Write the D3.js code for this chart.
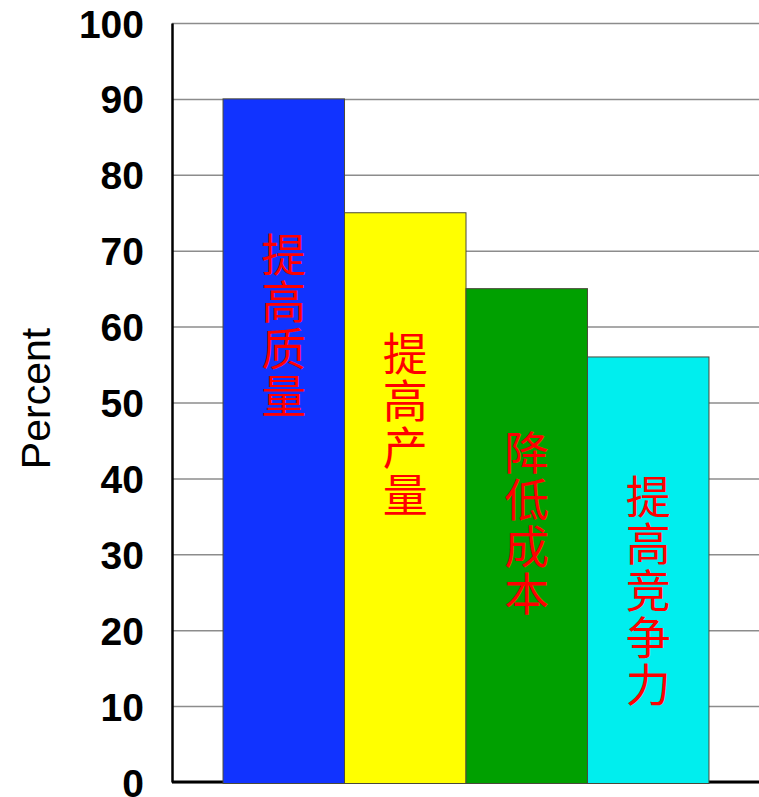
<!DOCTYPE html>
<html>
<head>
<meta charset="utf-8">
<script src="https://cdn.jsdelivr.net/npm/d3@7"></script>
<style>
  html, body { margin: 0; padding: 0; background: #fff; }
  svg { display: block; }
</style>
</head>
<body>
<div id="chart"></div>
<script>
// ---- data ----
const categories = ["提高质量", "提高产量", "降低成本", "提高竞争力"];
const values = [90, 75, 65, 56];
const barColors = ["#1133ff", "#ffff00", "#00a000", "#00eeee"];
const labelCenterAt = [60, 47, 34, 25];   // value level at which each bar's label is centred
const tickValues = [0, 10, 20, 30, 40, 50, 60, 70, 80, 90, 100];
const tickLabels = ["0", "10", "20", "30", "40", "50", "60", "70", "80", "90", "100"];
const yTitle = "Percent";

(function () {
// ---- layout ----
const W = 759, H = 797;
const mLeft = 172, mRight = 760, mTop = 23, mBottom = 782;

const svg = d3.select("#chart").append("svg")
  .attr("width", W).attr("height", H);

const x = d3.scaleBand().domain(categories)
  .range([mLeft, mRight]).paddingInner(0).paddingOuter(0.42);
const y = d3.scaleLinear().domain([0, 100]).range([mBottom, mTop]);

// gridlines
const grid = svg.append("g").attr("transform", `translate(${mLeft},0)`)
  .call(d3.axisLeft(y).tickValues(tickValues).tickSize(-(W - mLeft)).tickFormat(""));
grid.select(".domain").remove();
grid.selectAll(".tick line").attr("stroke", "#8c8c8c").attr("stroke-width", 1.5);

// baseline
svg.append("line")
  .attr("x1", mLeft).attr("x2", W)
  .attr("y1", y(0)).attr("y2", y(0))
  .attr("stroke", "#000").attr("stroke-width", 3);

// bars
svg.append("g").selectAll("rect")
  .data(categories)
  .join("rect")
  .attr("x", d => x(d))
  .attr("y", (d, i) => y(values[i]))
  .attr("width", x.bandwidth())
  .attr("height", (d, i) => y(0) - y(values[i]) + 1.5)
  .attr("fill", (d, i) => barColors[i])
  .attr("stroke", "#4a4a3a")
  .attr("stroke-width", 1);

// y axis
const yAxis = svg.append("g").attr("transform", `translate(${mLeft},0)`)
  .call(d3.axisLeft(y).tickValues(tickValues).tickSize(0).tickPadding(28)
    .tickFormat((d, i) => tickLabels[i]).tickSizeOuter(0));
yAxis.select(".domain").attr("stroke", "#000").attr("stroke-width", 2.5);
yAxis.selectAll(".tick text")
  .attr("font-family", "'Liberation Sans', Arial, sans-serif")
  .attr("font-weight", "bold")
  .attr("font-size", 39)
  .attr("fill", "#000")
  .attr("dy", "0.36em");

// y title
svg.append("text")
  .attr("transform", `translate(50,${(mTop + mBottom) / 2 - 4}) rotate(-90)`)
  .attr("text-anchor", "middle")
  .attr("font-family", "'Liberation Sans', Arial, sans-serif")
  .attr("font-size", 41)
  .attr("fill", "#000")
  .text(yTitle);

// vertical bar labels (one text per bar, set vertically)
svg.append("g").selectAll("text")
  .data(categories)
  .join("text")
  .attr("x", d => x(d) + x.bandwidth() / 2)
  .attr("y", (d, i) => y(labelCenterAt[i]))
  .attr("writing-mode", "vertical-rl")
  .attr("text-anchor", "middle")
  .attr("letter-spacing", 2)
  .attr("font-family", "'Noto Sans CJK SC', sans-serif")
  .attr("font-size", 45)
  .attr("fill", "#ff0000")
  .text(d => d);
})();
</script>
</body>
</html>
